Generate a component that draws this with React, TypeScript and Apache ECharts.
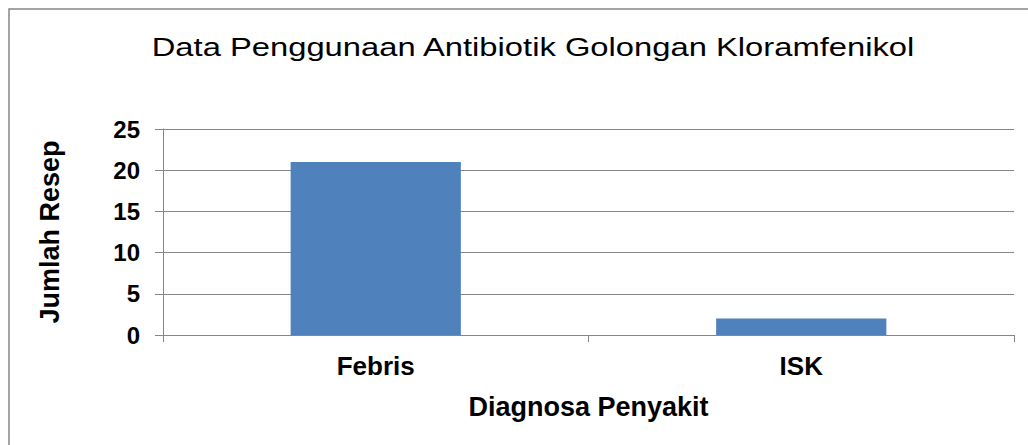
import React, { useEffect, useRef } from "react";
import * as echarts from "echarts";

const titleText = "Data Penggunaan Antibiotik Golongan Kloramfenikol";
const categories = ["Febris", "ISK"];
const values = [21, 2];
const yTicks = [0, 5, 10, 15, 20, 25];

export default function App() {
  const ref = useRef<HTMLDivElement>(null);
  useEffect(() => {
    document.body.style.margin = "0";
    const chart = echarts.init(ref.current!, null, { renderer: "svg" });
    const font = "'Liberation Sans', Arial, sans-serif";
    chart.setOption({
      animation: false,
      backgroundColor: "#ffffff",
      graphic: [
        {
          type: "rect",
          shape: { x: 9, y: 9, width: 1040, height: 460 },
          style: { fill: "none", stroke: "#868686", lineWidth: 1.5 },
          silent: true,
        },
        {
          type: "text",
          x: 533,
          y: 47,
          scaleX: 1.31,
          style: {
            text: titleText,
            fontFamily: font,
            fontSize: 25,
            fill: "#000",
            align: "center",
            verticalAlign: "middle",
          },
          silent: true,
        },
      ],
      grid: { left: 163, right: 14, top: 129, bottom: 110, containLabel: false },
      xAxis: {
        type: "category",
        data: categories,
        name: "Diagnosa Penyakit",
        nameLocation: "middle",
        nameGap: 58,
        nameTextStyle: { fontFamily: font, fontSize: 27, fontWeight: "bold", color: "#000" },
        axisLine: { lineStyle: { color: "#868686", width: 1 } },
        axisTick: { show: true, length: 7, lineStyle: { color: "#868686" } },
        axisLabel: { fontFamily: font, fontSize: 26, fontWeight: "bold", color: "#000", margin: 18 },
      },
      yAxis: {
        type: "value",
        min: yTicks[0],
        max: yTicks[yTicks.length - 1],
        interval: 5,
        name: "Jumlah Resep",
        nameLocation: "middle",
        nameGap: 100,
        nameRotate: 90,
        nameTextStyle: { fontFamily: font, fontSize: 27, fontWeight: "bold", color: "#000" },
        axisLine: { show: true, lineStyle: { color: "#868686", width: 1 } },
        axisTick: { show: true, length: 8, lineStyle: { color: "#868686" } },
        axisLabel: { fontFamily: font, fontSize: 24, fontWeight: "bold", color: "#000", margin: 23 },
        splitLine: { show: true, lineStyle: { color: "#868686", width: 1 } },
      },
      series: [
        {
          type: "bar",
          data: values,
          barWidth: "40%",
          itemStyle: { color: "#4F81BD" },
        },
      ],
    });
    return () => chart.dispose();
  }, []);
  return <div ref={ref} style={{ width: 1028, height: 445 }} />;
}
